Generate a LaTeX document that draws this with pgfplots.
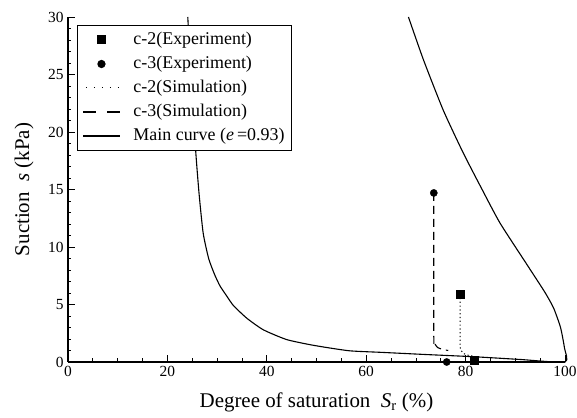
\documentclass[border=0pt]{standalone}
\usepackage{fontspec}
\setmainfont{Liberation Serif}
\usepackage{pgfplots}
\pgfplotsset{compat=1.18}

\pgfplotsset{
  widelegend/.style={legend image code/.code={%
    \draw[mark repeat=2,mark phase=2,##1] plot coordinates {(0cm,0cm) (0.65cm,0cm) (1.3cm,0cm)};}},
  dotlegend/.style={legend image code/.code={%
    \draw[##1, dash pattern=on 1.5bp off 6.5bp] (0.1cm,0cm) -- (1.3cm,0cm);}},
  dashlegend/.style={legend image code/.code={%
    \draw[##1, dash pattern=on 13bp off 11bp] (0cm,0cm) -- (1.3cm,0cm);}},
}

\begin{document}
\begin{tikzpicture}
\begin{axis}[
  scale only axis, width=497bp, height=345bp,
  xmin=0, xmax=100, ymin=0, ymax=30,
  axis lines*=left,
  axis line style={line width=1.6bp},
  xtick={0,20,...,100}, ytick={0,5,...,30},
  minor x tick num=3, minor y tick num=4,
  tick align=inside,
  major tick length=7bp, minor tick length=3.5bp,
  tick style={line width=0.8bp, black},
  /pgf/number format/assume math mode=true,
  ticklabel style={font=\fontsize{15.5}{18}\selectfont},
  xticklabel style={yshift=-1bp},
  yticklabel style={xshift=-1bp},
  every axis x label/.style={at={([yshift=-40bp]rel axis cs:0.5,0)}, anchor=center},
  every axis y label/.style={at={([xshift=-44bp]rel axis cs:0,0.5)}, anchor=center, rotate=90},
  label style={font=\fontsize{21}{24}\selectfont},
  xlabel={Degree of saturation\ \ \textit{S}\textsubscript{r} (\%)},
  ylabel={Suction\ \ \textit{s} (kPa)},
  clip=false,
  legend cell align=left,
  legend style={at={(rel axis cs:0,1)}, anchor=north west, xshift=9bp, yshift=-8bp,
    draw=black, line width=1bp, fill=white,
    font=\fontsize{18}{20}\selectfont,
    nodes={inner sep=2bp, text height=13bp, text depth=4bp},
    /tikz/every odd column/.append style={column sep=11bp},
    inner xsep=5bp, inner ysep=4bp, row sep=3bp},
]
% experiments
\addplot[only marks, mark=square*, mark size=4bp, black, widelegend] coordinates {
  (78.9,5.9) (81.8,0.2)
};
\addlegendentry{c-2(Experiment)}
\addplot[only marks, mark=*, mark size=3.6bp, black, widelegend] coordinates {
  (73.6,14.7) (76.2,0.0)
};
\addlegendentry{c-3(Experiment)}
% simulations
\addplot[black, line width=1bp, dash pattern=on 1.2bp off 2.6bp, smooth, tension=0.4, dotlegend] coordinates {
  (78.9,5.9) (78.9,1.5) (79.1,1.0) (79.7,0.72) (80.6,0.58) (81.6,0.52)
};
\addlegendentry{c-2(Simulation)}
\addplot[black, line width=1.1bp, dash pattern=on 8bp off 5bp, smooth, tension=0.4, dashlegend] coordinates {
  (73.6,14.7) (73.6,2.2) (73.8,1.6) (74.4,1.25) (75.4,1.1) (76.5,1.0)
};
\addlegendentry{c-3(Simulation)}
% main curve (wetting branch then drying branch)
\addplot[black, line width=1.1bp, smooth, tension=0.35, widelegend] coordinates {
  (24.1,30) (24.6,26) (25.2,22) (25.75,18) (26.4,14.5) (27.2,11.2)
  (28.3,9.0) (29.5,7.6) (30.6,6.6) (32.0,5.7) (33.3,4.9) (36.0,3.8)
  (39.3,2.8) (44.0,1.95) (49.4,1.45) (56.5,0.98) (63,0.84) (72,0.65)
  (82,0.45) (91,0.22) (100,0)
  (99.9,1.2) (99.1,3.0) (97.7,4.7) (95.9,6.1) (92.3,8.5) (86.9,12.1)
  (83.2,15.1) (79.5,18.2) (75.5,21.9) (71.5,26.3) (68.5,30)
};
\addlegendentry{Main curve (\textit{e}\,=0.93)}
\coordinate (ll) at (rel axis cs:0,0);
\coordinate (ur) at (rel axis cs:1,1);
\end{axis}
\pgfresetboundingbox
\path ([shift={(-68bp,-56bp)}]ll) rectangle ([shift={(12bp,17bp)}]ur);
\end{tikzpicture}
\end{document}
